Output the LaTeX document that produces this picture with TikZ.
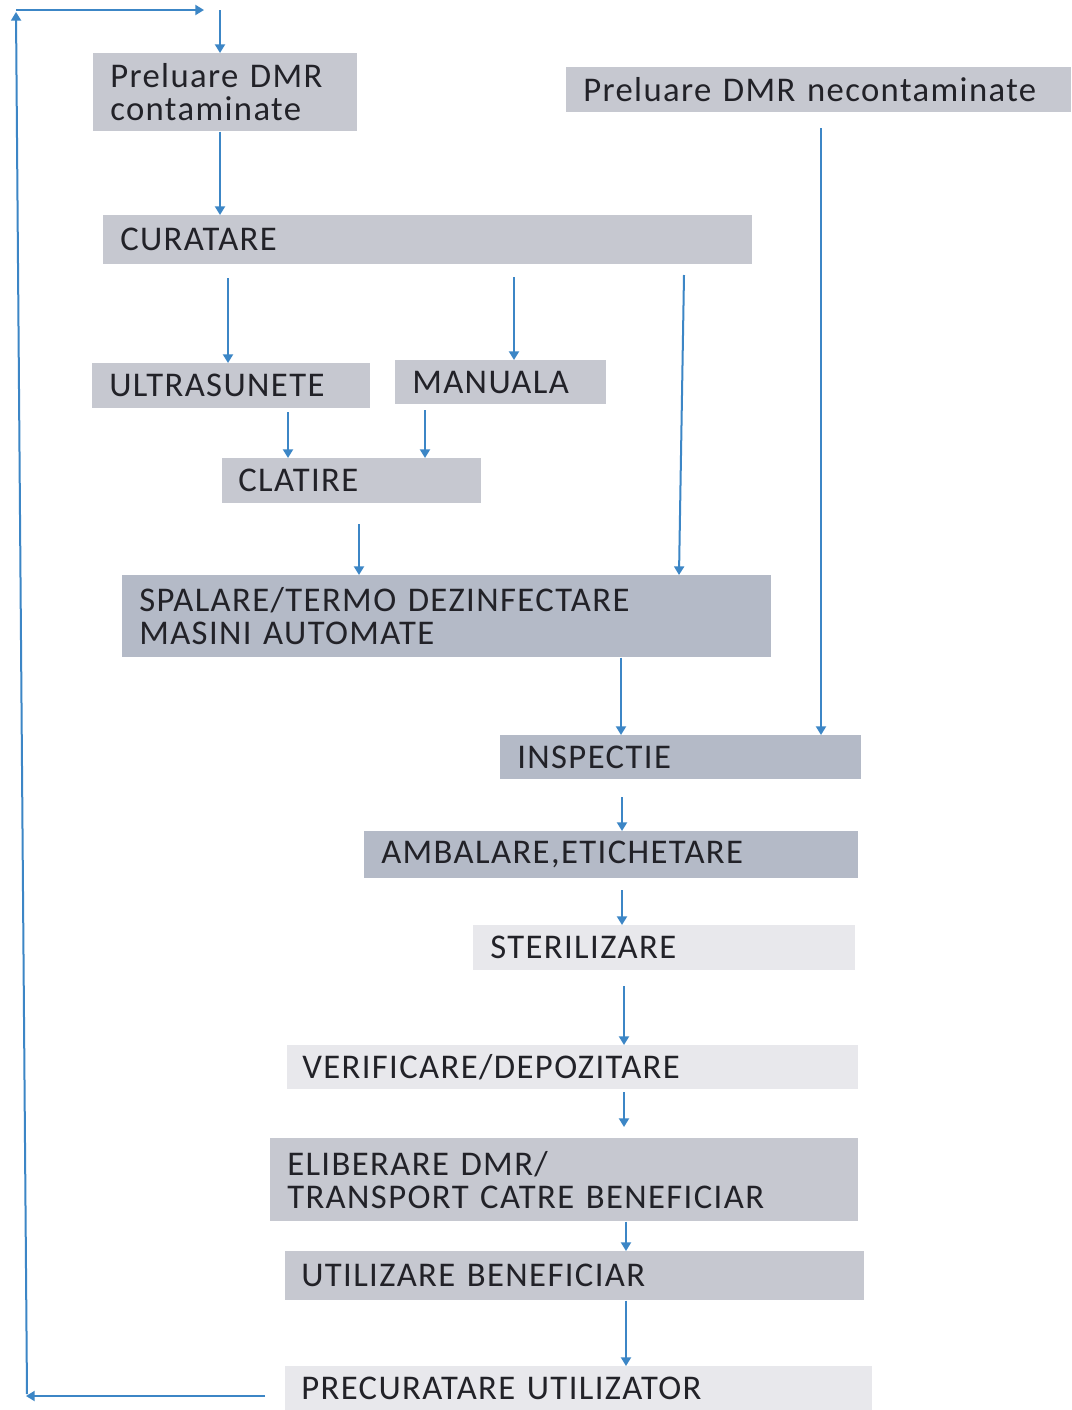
\documentclass[tikz,border=0pt]{standalone}
\usepackage{fontspec}
\setmainfont{Carlito}[LetterSpace=4]
\usetikzlibrary{arrows.meta}
\definecolor{boxmid}{HTML}{C6C8D0}
\definecolor{boxblue}{HTML}{B4BAC7}
\definecolor{boxlight}{HTML}{E8E8EC}
\definecolor{arrowblue}{HTML}{3C86C6}
\definecolor{txt}{HTML}{222228}
\tikzset{
  box/.style={anchor=north west, inner xsep=12.75pt, inner ysep=0pt, align=left,
    text=txt, font=\fontsize{26}{24.75}\selectfont},
  arr/.style={draw=arrowblue, line width=1.5pt, -{Triangle[width=7.5pt,length=6.5pt]}},
}
\begin{document}
\begin{tikzpicture}[x=0.75pt,y=-0.75pt]
\fill[white] (0,0) rectangle (1071,1410);
\useasboundingbox (0,0) rectangle (1071,1410);

\node[box, fill=boxmid, text width=172.5pt, minimum height=58.5pt] (pc) at (93,53) {Preluare DMR\\contaminate};
\node[box, fill=boxmid, text width=353.25pt, minimum height=33.75pt] (pn) at (566,67) {Preluare DMR necontaminate};
\node[box, fill=boxmid, text width=461.25pt, minimum height=36.75pt] (cur) at (103,215) {CURATARE};
\node[box, fill=boxmid, text width=183pt, minimum height=33.75pt] (ult) at (92,363) {ULTRASUNETE};
\node[box, fill=boxmid, text width=132.75pt, minimum height=33pt] (man) at (395,360) {MANUALA};
\node[box, fill=boxmid, inner xsep=12pt, text width=170.25pt, minimum height=33.75pt] (cla) at (222,458) {CLATIRE};
\node[box, fill=boxblue, text width=461.25pt, minimum height=61.5pt] (spa) at (122,575) {SPALARE/TERMO DEZINFECTARE\\MASINI AUTOMATE};
\node[box, fill=boxblue, text width=245.25pt, minimum height=33pt] (ins) at (500,735) {INSPECTIE};
\node[box, fill=boxblue, text width=345pt, minimum height=35.25pt] (amb) at (364,831) {AMBALARE,ETICHETARE};
\node[box, fill=boxlight, text width=261pt, minimum height=33.75pt] (ste) at (473,925) {STERILIZARE};
\node[box, fill=boxlight, inner xsep=11.25pt, text width=405.75pt, minimum height=33pt] (ver) at (287,1045) {VERIFICARE/DEPOZITARE};
\node[box, fill=boxmid, text width=415.5pt, minimum height=62.25pt] (eli) at (270,1138) {ELIBERARE DMR/\\TRANSPORT CATRE BENEFICIAR};
\node[box, fill=boxmid, inner xsep=12pt, text width=410.25pt, minimum height=36.75pt] (uti) at (285,1251) {UTILIZARE BENEFICIAR};
\node[box, fill=boxlight, inner xsep=12pt, text width=416.25pt, minimum height=33pt] (pre) at (285,1366) {PRECURATARE UTILIZATOR};

% free ends and reference coordinates
\coordinate (t0) at (220,10);
\coordinate (c1) at (228,278);
\coordinate (c2) at (514,277);
\coordinate (c3) at (684,275);
\coordinate (c3e) at (679,0);
\coordinate (n1) at (821,128);
\coordinate (u1) at (288,412);
\coordinate (m1) at (425,410);
\coordinate (k1) at (359,524);
\coordinate (xa) at (621,0);
\coordinate (i1) at (622,797);
\coordinate (a1) at (622,890);
\coordinate (s1) at (624,986);
\coordinate (v1) at (624,1092);
\coordinate (ve) at (624,1127);
\coordinate (xb) at (626,0);
\coordinate (r1) at (265,1396);
\coordinate (r2) at (26,1396);
\coordinate (r3) at (27,1394);
\coordinate (r4) at (16,12);
\coordinate (r5) at (16,10);
\coordinate (r6) at (204,10);

\draw[arr] (t0) -- (t0 |- pc.north);
\draw[arr] (pc.south -| t0) -- (cur.north -| t0);
\draw[arr] (c1) -- (c1 |- ult.north);
\draw[arr] (c2) -- (c2 |- man.north);
\draw[arr] (c3) -- (spa.north -| c3e);
\draw[arr] (n1) -- (n1 |- ins.north);
\draw[arr] (u1) -- (u1 |- cla.north);
\draw[arr] (m1) -- (m1 |- cla.north);
\draw[arr] (k1) -- (k1 |- spa.north);
\draw[arr] (spa.south -| xa) -- (ins.north -| xa);
\draw[arr] (i1) -- (i1 |- amb.north);
\draw[arr] (a1) -- (a1 |- ste.north);
\draw[arr] (s1) -- (s1 |- ver.north);
\draw[arr] (v1) -- (ve);
\draw[arr] (eli.south -| xb) -- (uti.north -| xb);
\draw[arr] (uti.south -| xb) -- (pre.north -| xb);
\draw[arr] (r1) -- (r2);
\draw[arr] (r3) -- (r4);
\draw[arr] (r5) -- (r6);
\end{tikzpicture}
\end{document}
